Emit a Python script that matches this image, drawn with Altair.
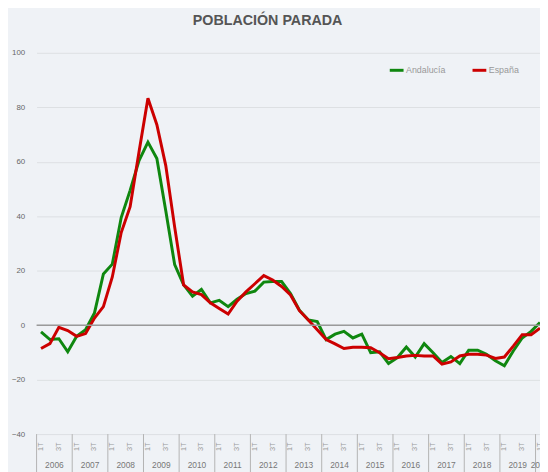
import altair as alt
import pandas as pd

# ---- data (quarterly, 2006 1T .. 2020 1T) ----
years = [2006, 2007, 2008, 2009, 2010, 2011, 2012, 2013, 2014,
         2015, 2016, 2017, 2018, 2019, 2020]
series_names = ["Andalucía", "España"]
series_colors = ["#0f870f", "#cc0000"]

andalucia = [-2.5, -5.3, -5.0, -9.8, -4.1, -1.7, 4.5, 18.8,
             22.4, 39.5, 49.5, 60.4, 67.2, 61.2, 42.0, 22.2,
             14.8, 10.6, 13.1, 8.2, 9.1, 6.8, 9.5, 11.6,
             12.5, 15.8, 16.0, 16.0, 11.6, 5.5, 1.9, 1.3,
             -5.3, -3.3, -2.3, -4.7, -3.3, -10.1, -9.8, -14.1,
             -11.9, -8.0, -11.7, -6.8, -10.1, -13.7, -11.5, -14.1,
             -9.2, -9.2, -10.7, -13.1, -14.9, -9.5, -4.7, -2.3,
             1.0]
espana = [-8.6, -6.8, -0.8, -2.0, -4.1, -3.1, 2.6, 6.8,
          17.7, 34.0, 43.5, 63.7, 83.3, 73.6, 58.6, 36.0,
          14.8, 12.2, 11.2, 8.2, 6.1, 4.1, 8.8, 12.2,
          15.2, 18.2, 16.6, 14.2, 11.1, 5.3, 1.9, -1.7,
          -5.3, -6.9, -8.6, -8.1, -8.1, -8.3, -10.1, -12.3,
          -11.9, -11.3, -11.1, -11.3, -11.3, -14.3, -13.5, -11.3,
          -10.7, -10.7, -11.0, -12.2, -11.7, -7.7, -3.5, -3.5,
          -1.1]
y_ticks = [-40, -20, 0, 20, 40, 60, 80, 100]
quarter_labels = ["1T", "2T", "3T", "4T"]
shown_quarters = ["1T", "3T"]

# ---- tables built from the lists ----
n = len(andalucia)
rows = []
for name, vals in zip(series_names, [andalucia, espana]):
    for i, v in enumerate(vals):
        rows.append({"t": i + 0.5, "serie": name, "valor": v})
df = pd.DataFrame(rows)

qrows = []
for i in range(n):
    q = quarter_labels[i % 4]
    if q in shown_quarters:
        qrows.append({"t": i + 0.5, "lab": q})
qdf = pd.DataFrame(qrows)

yrows, seps = [], []
for k, y in enumerate(years):
    nq = min(4, n - 4 * k)
    yrows.append({"t": 4 * k + nq / 2, "lab": str(y)})
    seps.append({"t": 4 * k})
ydf = pd.DataFrame(yrows)
sdf = pd.DataFrame(seps)

W, H = 511, 387
FONT = "Liberation Sans"
xscale = alt.Scale(domain=[0, 56.5], nice=False, zero=False)
yscale = alt.Scale(domain=[-40, 100], nice=False, zero=False)
yaxis = alt.Axis(values=y_ticks, title=None, domain=False, ticks=False,
                 grid=True, gridColor="#dcdfe3", gridWidth=1,
                 labelFontSize=8, labelColor="#666", labelFont=FONT,
                 labelPadding=12)

lines = alt.Chart(df).mark_line(strokeWidth=3).encode(
    x=alt.X("t:Q", scale=xscale, axis=None),
    y=alt.Y("valor:Q", scale=yscale, axis=yaxis),
    color=alt.Color("serie:N",
                    scale=alt.Scale(domain=series_names, range=series_colors),
                    legend=alt.Legend(title=None, orient="none", legendX=357, legendY=9,
                                      direction="horizontal", symbolType="stroke",
                                      symbolStrokeWidth=3, symbolSize=196,
                                      labelFontSize=9, labelColor="#999", labelFont=FONT,
                                      labelOffset=1, columnPadding=20)),
)

zero = alt.Chart(pd.DataFrame({"v": [0]})).mark_rule(color="#9a9a9a", strokeWidth=1.5).encode(
    y=alt.Y("v:Q", scale=yscale, axis=yaxis)
)

sep = alt.Chart(sdf).mark_rule(color="#b3b3b3", strokeWidth=1).encode(
    x=alt.X("t:Q", scale=xscale, axis=None),
    y=alt.value(H),
    y2=alt.value(H + 45),
)

qtext = alt.Chart(qdf).mark_text(angle=270, align="right", baseline="middle",
                                 fontSize=7.5, color="#999", font=FONT).encode(
    x=alt.X("t:Q", scale=xscale, axis=None),
    y=alt.value(H + 8.5),
    text="lab:N",
)

ytext = alt.Chart(ydf).mark_text(align="center", baseline="middle",
                                 fontSize=8.5, color="#777", font=FONT).encode(
    x=alt.X("t:Q", scale=xscale, axis=None),
    y=alt.value(H + 31),
    text="lab:N",
)

chart = alt.layer(lines, zero, sep, qtext, ytext).properties(
    width=W, height=H,
    title=alt.TitleParams("POBLACIÓN PARADA", font=FONT, fontSize=14.5, fontWeight="bold",
                          color="#555", anchor="middle", dx=-21, offset=21),
    autosize=alt.AutoSizeParams(type="none"),
    padding={"left": 29, "top": 42, "right": 0, "bottom": 35},
    background="#eff2f6",
).configure_view(stroke=None)

chart.save("out.html", embed_options={"renderer": "svg", "actions": False})
